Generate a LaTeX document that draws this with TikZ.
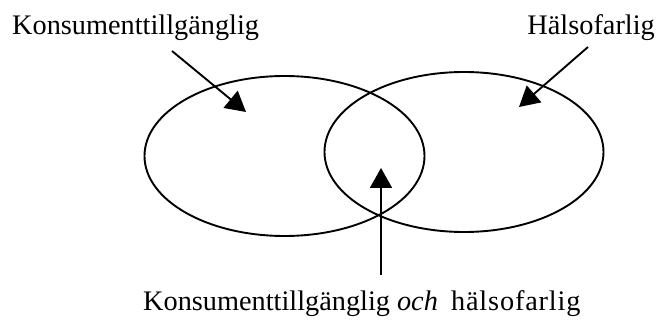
\documentclass[tikz,border=0pt]{standalone}
\usepackage{fontspec}
\setmainfont{Liberation Serif}
\usetikzlibrary{arrows.meta,shapes.geometric}
\begin{document}
\begin{tikzpicture}[x=1pt,y=-1pt,
  lbl/.style={font=\fontsize{28.3}{32}\selectfont, inner sep=0pt},
  setshape/.style={draw, ellipse, line width=1.9pt, inner sep=0pt, minimum width=280pt, minimum height=160pt},
  pointer/.style={line width=1.9pt, -{Triangle[length=20pt,width=22pt]}}]
\useasboundingbox (0,0) rectangle (659,320);
% sets
\node[setshape] (kons) at (284.5,156) {};
\node[setshape, minimum width=279pt] (hals) at (464,152) {};
% labels
\node[lbl, anchor=base west] (konslbl) at (12,35) {Konsumenttillgänglig};
\node[lbl, anchor=base east] (halslbl) at (655,35) {Hälsofarlig};
\node[lbl, anchor=base west] (bothlbl) at (143,311) {Konsumenttillgänglig \textit{och}\hspace{6pt} {\addfontfeature{LetterSpace=3}hälsofarlig}};
% arrow ends
\coordinate (ka) at (172,51);
\coordinate (kb) at (246,112);
\coordinate (ha) at (588,47);
\coordinate (hb) at (519,107);
\coordinate (ba) at (381,275);
\coordinate (bb) at (381,168);
\draw[pointer] (ka) -- (kb);
\draw[pointer] (ha) -- (hb);
\draw[pointer] (ba) -- (bb);
\end{tikzpicture}
\end{document}
